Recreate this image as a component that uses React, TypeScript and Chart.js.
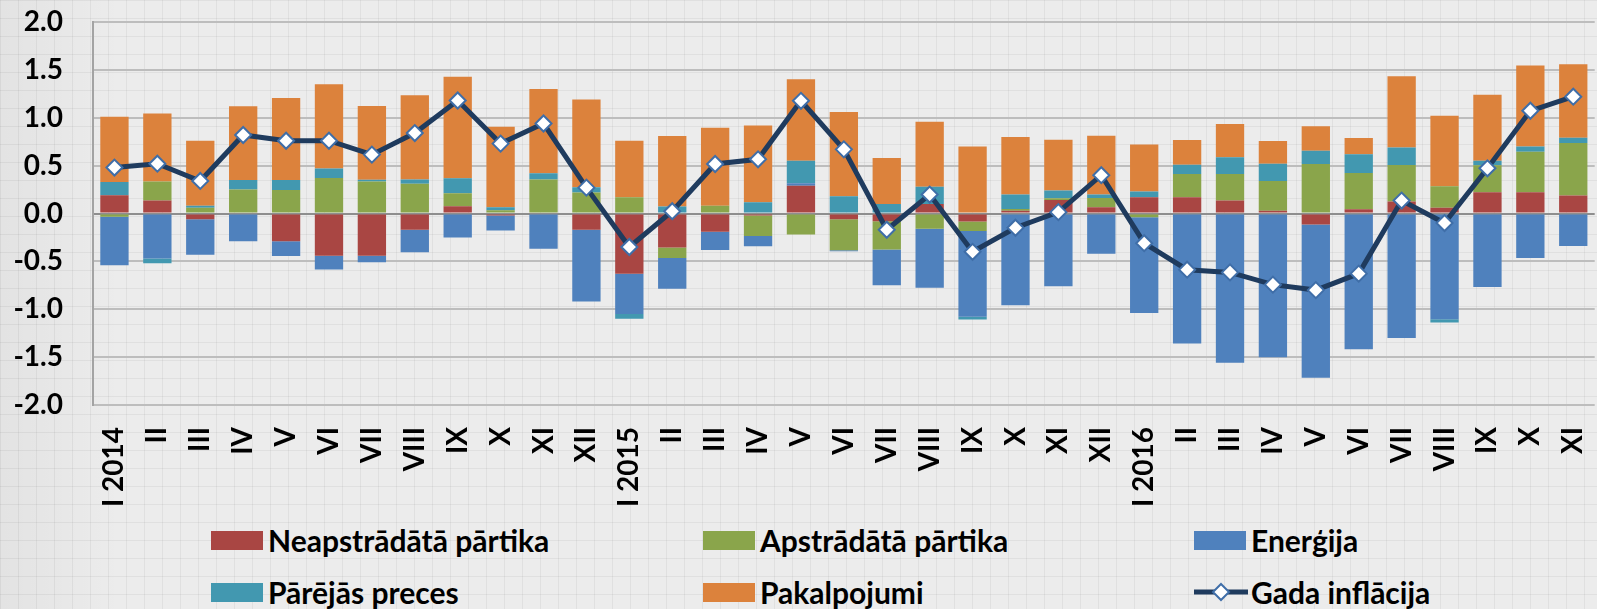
import React, { useEffect, useRef } from "react";
import { Chart, registerables } from "chart.js";

Chart.register(...registerables);

const categories = [
  "I 2014", "II", "III", "IV", "V", "VI", "VII", "VIII", "IX", "X", "XI", "XII",
  "I 2015", "II", "III", "IV", "V", "VI", "VII", "VIII", "IX", "X", "XI", "XII",
  "I 2016", "II", "III", "IV", "V", "VI", "VII", "VIII", "IX", "X", "XI",
];

const neapstradataPartika = [
  0.19, 0.135, -0.06, 0.01, -0.29, -0.44, -0.44, -0.17, 0.076, -0.02, 0, -0.17,
  -0.63, -0.355, -0.19, -0.02, 0.29, -0.06, -0.08, 0.1, -0.083, 0.03, 0.14, 0.066,
  0.17, 0.17, 0.135, 0.03, -0.115, 0.045, 0.125, 0.06, 0.222, 0.222, 0.188,
];
const apstradataPartika = [
  -0.035, 0.2, 0.06, 0.24, 0.245, 0.37, 0.333, 0.31, 0.136, 0.035, 0.354, 0.219,
  0.17, -0.11, 0.08, -0.215, -0.22, -0.325, -0.295, -0.16, -0.1, 0.018, 0.02, 0.097,
  -0.038, 0.243, 0.278, 0.31, 0.517, 0.379, 0.382, 0.225, 0.281, 0.424, 0.548,
];
const energija = [
  -0.505, -0.47, -0.37, -0.29, -0.155, -0.145, -0.07, -0.235, -0.25, -0.157, -0.368, -0.75,
  -0.42, -0.32, -0.19, -0.108, 0.025, -0.01, -0.375, -0.615, -0.896, -0.958, -0.76, -0.42,
  -1.0, -1.357, -1.56, -1.5, -1.6, -1.417, -1.3, -1.104, -0.767, -0.465, -0.34,
];
const parejasPreces = [
  0.14, -0.05, 0.02, 0.1, 0.105, 0.1, 0.02, 0.044, 0.156, 0.03, 0.066, 0.055,
  -0.05, 0.073, 0, 0.118, 0.236, 0.18, 0.1, 0.18, -0.028, 0.15, 0.08, 0.035,
  0.06, 0.097, 0.174, 0.18, 0.139, 0.194, 0.183, -0.035, 0.049, 0.054, 0.054,
];
const pakalpojumi = [
  0.68, 0.71, 0.68, 0.77, 0.855, 0.88, 0.77, 0.88, 1.06, 0.84, 0.88, 0.916,
  0.59, 0.737, 0.816, 0.8, 0.85, 0.88, 0.48, 0.678, 0.7, 0.6, 0.53, 0.614,
  0.49, 0.257, 0.347, 0.237, 0.254, 0.17, 0.744, 0.735, 0.688, 0.845, 0.77,
];
const gadaInflacija = [
  0.48, 0.52, 0.34, 0.82, 0.76, 0.76, 0.615, 0.84, 1.18, 0.73, 0.94, 0.27,
  -0.35, 0.024, 0.517, 0.566, 1.177, 0.67, -0.17, 0.198, -0.4, -0.149, 0.014, 0.4,
  -0.31, -0.587, -0.615, -0.743, -0.8, -0.628, 0.135, -0.1, 0.472, 1.073, 1.22,
];

const seriesNames = [
  "Neapstrādātā pārtika",
  "Apstrādātā pārtika",
  "Enerģija",
  "Pārējās preces",
  "Pakalpojumi",
  "Gada inflācija",
];

const COLORS = {
  red: "#a94643",
  green: "#8aa54b",
  blue: "#4f81bd",
  teal: "#4298b0",
  orange: "#dc823c",
  line: "#1f3b5e",
  marker: "#3f6ea8",
};

const FONT = "Lato, 'Open Sans', sans-serif";

export default function App() {
  const ref = useRef<HTMLCanvasElement>(null);

  useEffect(() => {
    document.body.style.margin = "0";
    let chart: Chart | null = null;
    let cancelled = false;
    const make = () => {
      if (cancelled || !ref.current) return;
      chart = new Chart(ref.current, {
        type: "bar",
        data: {
          labels: categories,
          datasets: [
            {
              type: "line",
              label: seriesNames[5],
              data: gadaInflacija,
              borderColor: COLORS.line,
              borderWidth: 5,
              pointStyle: "rectRot",
              pointRadius: 8,
              pointBackgroundColor: "#ffffff",
              pointBorderColor: COLORS.marker,
              pointBorderWidth: 2,
              tension: 0,
              order: 0,
              stack: "line",
            } as any,
            { label: seriesNames[0], data: neapstradataPartika, backgroundColor: COLORS.red, order: 1 },
            { label: seriesNames[1], data: apstradataPartika, backgroundColor: COLORS.green, order: 1 },
            { label: seriesNames[2], data: energija, backgroundColor: COLORS.blue, order: 1 },
            { label: seriesNames[3], data: parejasPreces, backgroundColor: COLORS.teal, order: 1 },
            { label: seriesNames[4], data: pakalpojumi, backgroundColor: COLORS.orange, order: 1 },
          ],
        },
        options: {
          responsive: false,
          animation: false,
          devicePixelRatio: 1,
          layout: { padding: { top: 22, left: 0, right: 0, bottom: 0 } },
          plugins: {
            legend: { display: false },
            tooltip: { enabled: false },
            title: { display: false },
          },
          datasets: { bar: { barPercentage: 0.66, categoryPercentage: 1 } },
          scales: {
            x: {
              stacked: true,
              grid: {
                display: true,
                drawOnChartArea: false,
                drawTicks: true,
                tickLength: 22,
                color: "rgba(0,0,0,0)",
                tickColor: "rgba(0,0,0,0)",
              },
              border: { display: false },
              ticks: {
                autoSkip: false,
                maxRotation: 90,
                minRotation: 90,
                padding: 0,
                color: "#000",
                font: { family: FONT, weight: "bold", size: 28 },
              },
              afterFit: (s: any) => {
                s.height = 115;
              },
            },
            y: {
              stacked: true,
              min: -2,
              max: 2,
              ticks: {
                stepSize: 0.5,
                padding: 0,
                color: "#000",
                font: { family: FONT, weight: "bold", size: 28 },
                callback: (v: any) => Number(v).toFixed(1),
              },
              grid: {
                color: (c: any) => (c.tick && c.tick.value === 0 ? "#8e8e8e" : "#bdbdbd"),
                lineWidth: 2,
                drawTicks: true,
                tickLength: 30,
                tickColor: "rgba(0,0,0,0)",
              },
              border: { display: true, color: "#a3a3a3", width: 2 },
              afterFit: (s: any) => {
                s.width = 93;
              },
            },
          },
        } as any,
      });
    };
    const fontsReady = (document as any).fonts?.load
      ? Promise.all([(document as any).fonts.load(`bold 28px Lato`)]).catch(() => null)
      : Promise.resolve(null);
    fontsReady.then(make);
    return () => {
      cancelled = true;
      if (chart) chart.destroy();
    };
  }, []);

  const legendItems = [
    { label: seriesNames[0], color: COLORS.red, left: 211, top: 540, line: false },
    { label: seriesNames[1], color: COLORS.green, left: 703, top: 540, line: false },
    { label: seriesNames[2], color: COLORS.blue, left: 1194, top: 540, line: false },
    { label: seriesNames[3], color: COLORS.teal, left: 211, top: 592, line: false },
    { label: seriesNames[4], color: COLORS.orange, left: 703, top: 592, line: false },
    { label: seriesNames[5], color: COLORS.line, left: 1194, top: 592, line: true },
  ];

  return (
    <div
      style={{
        position: "fixed",
        left: 0,
        top: 0,
        width: "100vw",
        height: "100vh",
        overflow: "hidden",
        backgroundColor: "#ececec",
        backgroundImage:
          "linear-gradient(to right, rgba(0,0,0,0.05) 0px, rgba(0,0,0,0.05) 1px, transparent 1px, transparent 18px), linear-gradient(to bottom, rgba(0,0,0,0.05) 0px, rgba(0,0,0,0.05) 1px, transparent 1px, transparent 18px), linear-gradient(to right, rgba(0,0,0,0.04), rgba(0,0,0,0) 120px)",
        backgroundSize: "18px 18px, 18px 18px, 100% 100%",
      }}
    >
      <canvas
        ref={ref}
        width={1607}
        height={520}
        style={{ position: "absolute", left: 0, top: 0, width: 1607, height: 520 }}
      />
      {legendItems.map((it) => (
        <div
          key={it.label}
          style={{
            position: "absolute",
            left: it.left,
            top: it.top,
            transform: "translateY(-50%)",
            display: "flex",
            alignItems: "center",
            fontFamily: FONT,
            fontWeight: 700,
            fontSize: 30,
            color: "#000",
            whiteSpace: "nowrap",
            lineHeight: 1,
          }}
        >
          {it.line ? (
            <svg width={54} height={20} style={{ marginRight: 3 }}>
              <line x1={0} y1={10} x2={54} y2={10} stroke={it.color} strokeWidth={5} />
              <polygon
                points="27,2 35,10 27,18 19,10"
                fill="#fff"
                stroke={COLORS.marker}
                strokeWidth={2}
              />
            </svg>
          ) : (
            <span
              style={{
                display: "inline-block",
                width: 52,
                height: 19,
                background: it.color,
                marginRight: 5,
              }}
            />
          )}
          <span>{it.label}</span>
        </div>
      ))}
    </div>
  );
}
